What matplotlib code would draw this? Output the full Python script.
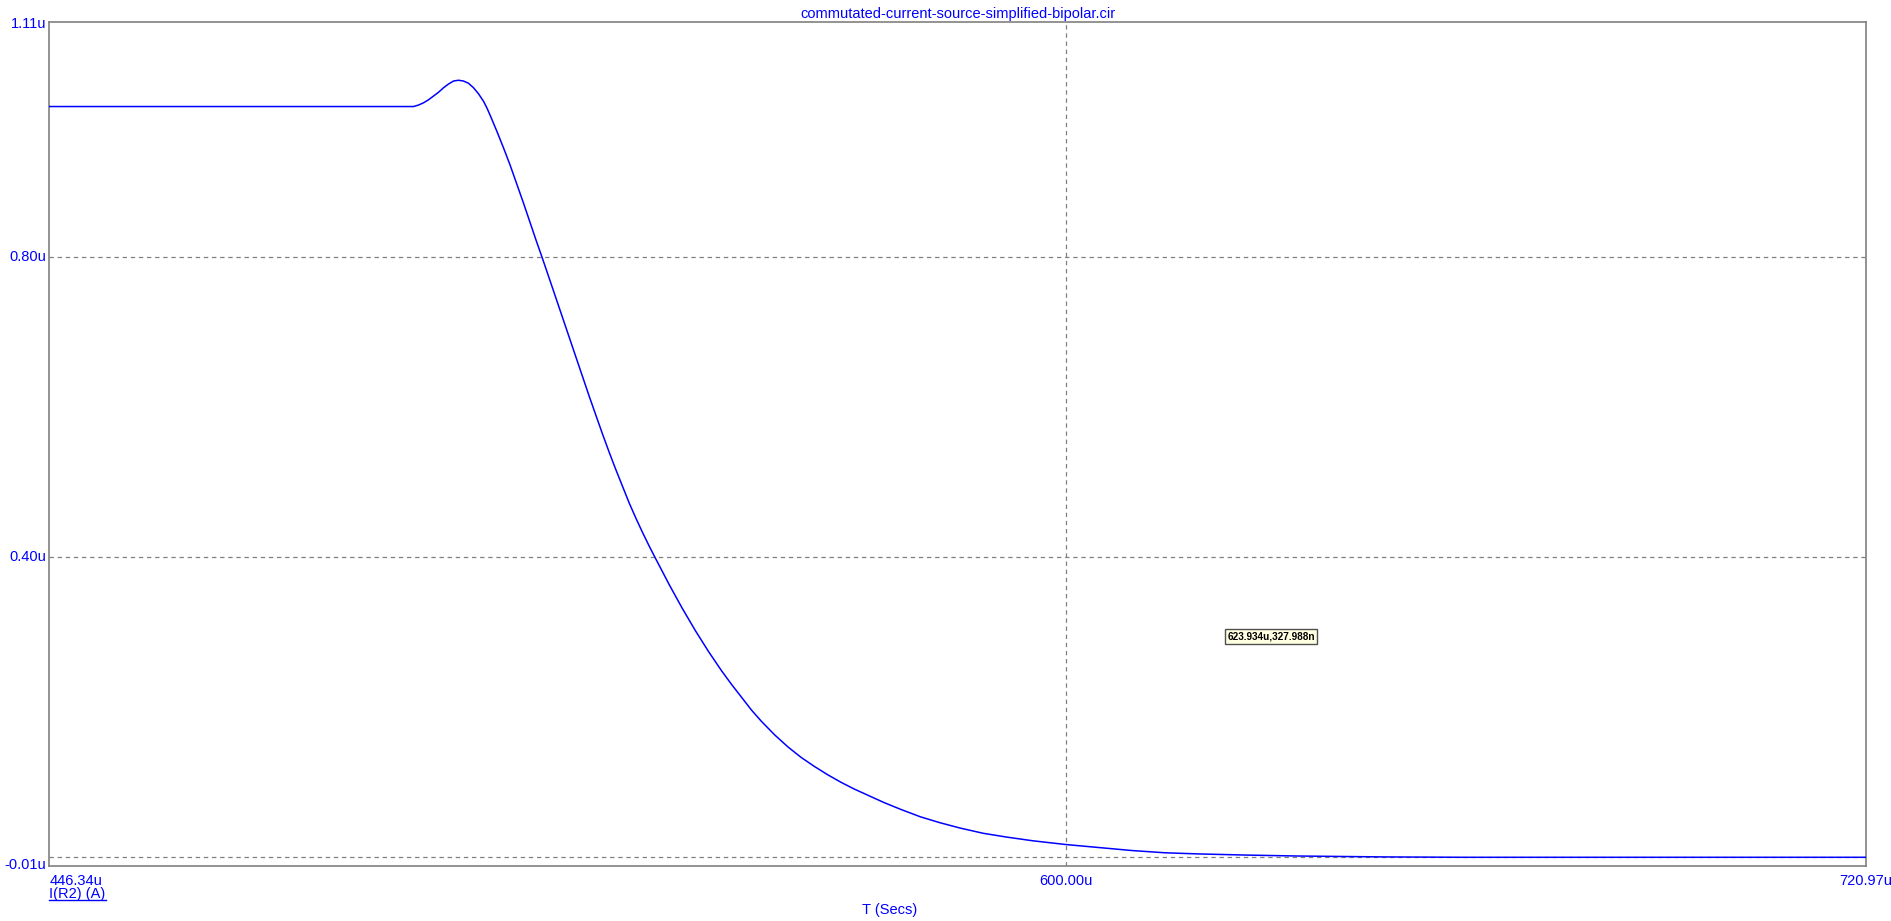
import matplotlib
matplotlib.use("Agg")
import matplotlib.pyplot as plt
from matplotlib.lines import Line2D

# transient result: time in us, current in uA
t_us = [446.34, 501.40, 502.16, 502.91, 503.67, 504.42, 505.18, 505.93, 506.69,
        507.45, 508.20, 508.95, 509.71, 510.47, 511.22, 511.98, 512.50, 513.00,
        514.00, 515.00, 516.00, 517.00, 518.00, 519.00, 520.00, 520.80, 522.00,
        523.00, 524.00, 525.00, 526.00, 527.00, 528.00, 529.00, 530.00, 531.00,
        532.00, 533.00, 534.00, 535.00, 536.00, 537.00, 537.93, 539.00, 540.00,
        541.00, 542.00, 543.00, 544.00, 545.00, 546.00, 547.00, 548.00, 549.50,
        551.00, 552.50, 554.00, 556.00, 558.00, 560.00, 562.00, 564.00, 566.00,
        568.00, 570.00, 572.50, 575.00, 578.00, 581.00, 584.00, 587.50, 591.00,
        595.00, 600.00, 605.00, 610.00, 615.00, 620.00, 627.00, 635.00, 648.00,
        660.00, 720.97]
i_ua = [1.000, 1.000, 1.002, 1.005, 1.009, 1.014, 1.019, 1.025, 1.030,
        1.034, 1.035, 1.034, 1.031, 1.025, 1.017, 1.007, 0.998, 0.988,
        0.967, 0.945, 0.922, 0.897, 0.872, 0.846, 0.820, 0.800, 0.769,
        0.743, 0.717, 0.691, 0.665, 0.639, 0.613, 0.588, 0.563, 0.539,
        0.516, 0.494, 0.472, 0.452, 0.433, 0.415, 0.399, 0.381, 0.364,
        0.348, 0.332, 0.317, 0.302, 0.288, 0.274, 0.261, 0.248, 0.230,
        0.213, 0.196, 0.181, 0.163, 0.147, 0.133, 0.121, 0.110, 0.100,
        0.091, 0.083, 0.073, 0.064, 0.054, 0.046, 0.039, 0.032, 0.027,
        0.022, 0.017, 0.013, 0.009, 0.006, 0.0045, 0.003, 0.0017, 0.0005,
        0.000, 0.000]

x_min, x_max = 446.34, 720.97
y_min, y_max = -0.0116, 1.1126
y_grid = [0.0, 0.40, 0.80]
y_labels = {1.11: "1.11u", 0.80: "0.80u", 0.40: "0.40u", -0.01: "-0.01u"}
x_grid = [600.0]

title = "commutated-current-source-simplified-bipolar.cir"
trace_name = "I(R2) (A)"
x_name = "T (Secs)"
cursor_text = "623.934u,327.988n"

plt.rcParams['font.family'] = ['Liberation Sans', 'DejaVu Sans']
blue = "#0000ff"
grey = "#808080"

W, H = 1891, 921
fig = plt.figure(figsize=(W / 100, H / 100), dpi=100)
L, R, T, B = 49.3, 1866, 22, 866
ax = fig.add_axes([L / W, 1 - B / H, (R - L) / W, (B - T) / H])
ax.set_xlim(x_min, x_max)
ax.set_ylim(y_min, y_max)
ax.set_xticks([])
ax.set_yticks([])
for s in ax.spines.values():
    s.set_color(grey)
    s.set_linewidth(1.2)

# dashed grid
for g in y_grid:
    ax.axhline(g, color=grey, lw=0.9, dashes=(3.5, 3), zorder=1)
for g in x_grid:
    ax.axvline(g, color=grey, lw=0.9, dashes=(3.5, 3), zorder=1)

ax.plot(t_us, i_ua, color=blue, lw=1.1, zorder=3)

fs = 10.5
# y labels, right aligned at the axis
for v, lab in y_labels.items():
    ax.text(-0.0018, (v - y_min) / (y_max - y_min), lab, transform=ax.transAxes,
            ha="right", va="center", color=blue, fontsize=fs)

# x labels
ax.text(0.0, -0.009, "446.34u", transform=ax.transAxes, ha="left", va="top",
        color=blue, fontsize=fs)
ax.text((600.0 - x_min) / (x_max - x_min), -0.009, "600.00u",
        transform=ax.transAxes, ha="center", va="top", color=blue, fontsize=fs)
ax.text(1.0, -0.009, "720.97u", transform=ax.transAxes, ha="center", va="top",
        color=blue, fontsize=fs)

fig.text(957.5 / W, 1 - 14 / H, title, ha="center", va="center", color=blue,
         fontsize=fs)
fig.text(890 / W, 1 - 910 / H, x_name, ha="center", va="center", color=blue,
         fontsize=fs)
tn = fig.text(L / W, 1 - 894 / H, trace_name, ha="left", va="center",
              color=blue, fontsize=fs)

# underline the trace name
fig.canvas.draw()
bb = tn.get_window_extent()
uy = (bb.y0 + 1) / H
fig.add_artist(Line2D([bb.x0 / W, bb.x1 / W], [uy, uy], color=blue, lw=1.0,
                      transform=fig.transFigure))

# cursor readout box
fig.text(1271 / W, 1 - 636.5 / H, cursor_text, ha="center", va="center",
         fontsize=7.2, fontweight="bold", color="black",
         bbox=dict(boxstyle="square,pad=0.25", fc="#ffffe1", ec="#505050",
                   lw=1.0))

fig.savefig("out.png", dpi=100)
